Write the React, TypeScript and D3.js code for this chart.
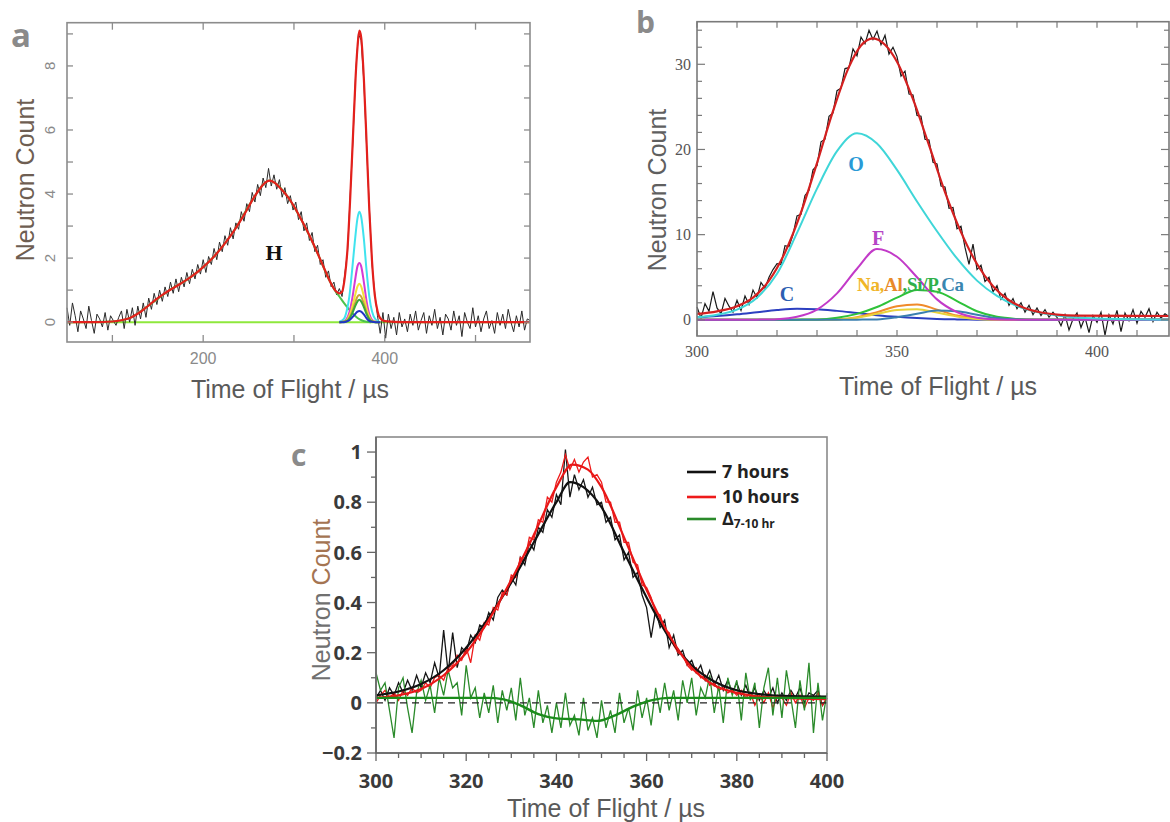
import React from 'react';
import * as d3 from 'd3';

type Pt = [number, number];

// ---------- panel a : full spectrum, 50–560 µs ----------
const aStart = 50;
const aStep = 3;
const aCounts = [
  0.45, -0.1, 0.6, 0.2, -0.3, 0.35, 0.1, -0.2, 0.5, 0.05,
  -0.35, 0.25, 0.1, -0.15, 0.3, -0.25, 0.2, 0.05, -0.1, 0.15,
  0.35, -0.2, 0.4, 0.0, 0.45, -0.1, 0.5, 0.1, 0.6, 0.15,
  0.75, 0.4, 0.9, 0.55, 1.0, 0.65, 1.1, 0.8, 1.25, 0.9,
  1.35, 0.95, 1.4, 1.1, 1.55, 1.2, 1.65, 1.35, 1.8, 1.5,
  1.95, 1.55, 2.05, 1.8, 2.3, 1.95, 2.5, 2.2, 2.7, 2.4,
  2.95, 2.6, 3.1, 2.9, 3.45, 3.15, 3.7, 3.45, 4.05, 3.75,
  4.3, 3.95, 4.5, 4.2, 4.8, 4.25, 4.6, 4.15, 4.45, 3.9,
  4.2, 3.7, 3.95, 3.5, 3.75, 3.2, 3.45, 2.85, 3.1, 2.55,
  2.8, 2.2, 2.4, 1.8, 1.95, 1.4, 1.6, 1.1, 1.25, 0.85,
  1.05, 0.8, 1.5, 2.2, 4.0, 5.7, 7.8, 9.0, 8.8, 7.5,
  5.5, 3.6, 1.8, 0.9, 0.2, -0.35, 0.3, -0.5, 0.25, -0.2,
  0.15, -0.4, 0.3, -0.15, 0.1, -0.3, 0.25, -0.1, 0.35, -0.25,
  0.05, 0.3, -0.35, 0.2, -0.1, 0.4, -0.2, 0.15, -0.4, 0.25,
  0.1, -0.25, 0.35, -0.1, 0.2, -0.45, 0.3, 0.0, -0.2, 0.45,
  -0.15, 0.2, -0.3, 0.1, 0.35, -0.2, 0.05, -0.35, 0.3, -0.1,
  0.25, -0.2, 0.4, 0.0, -0.3, 0.2, -0.15, 0.35, -0.25, 0.1,
  0.05,
];
const aFitT = [50, 80, 100, 110, 120, 130, 140, 150, 162, 175, 187, 200, 212, 225, 235, 245, 255, 262, 268, 273,
  279, 286, 293, 300, 309, 318, 326, 333, 340, 346, 350, 353, 356, 359, 362, 365, 368, 370, 372, 374,
  377, 380, 383, 386, 389, 392, 395, 400, 420, 560];
const aFitV = [0, 0, 0.02, 0.06, 0.14, 0.3, 0.52, 0.75, 0.98, 1.2, 1.42, 1.72, 2.05, 2.5, 2.9, 3.35, 3.85, 4.15, 4.35, 4.42,
  4.35, 4.15, 3.92, 3.62, 3.15, 2.65, 2.15, 1.7, 1.25, 0.97, 0.9, 0.95, 1.4, 2.3, 3.9, 5.8, 7.7, 8.6, 9.1, 8.9,
  7.6, 5.6, 3.5, 1.9, 0.85, 0.35, 0.12, 0.03, 0, 0];
const aHT = [50, 100, 120, 140, 162, 187, 212, 235, 255, 268, 273, 279, 293, 309, 326, 340, 345, 350, 355, 360, 365, 370, 375, 380, 385];
const aHV = [0, 0.02, 0.14, 0.52, 0.98, 1.42, 2.05, 2.9, 3.85, 4.35, 4.42, 4.35, 3.92, 3.15, 2.15, 1.25, 1.0, 0.8, 0.6, 0.42, 0.26, 0.13, 0.05, 0.01, 0];
const aBaseT = [50, 560];
const aBaseV = [0, 0];
const aSpikeT = [350, 355, 358, 361, 364, 367, 370, 372, 374, 377, 380, 383, 386, 390, 395];
const aCyan = [0.01, 0.1, 0.34, 0.8, 1.6, 2.5, 3.25, 3.45, 3.3, 2.6, 1.6, 0.8, 0.33, 0.08, 0];
const aMagenta = [0, 0.02, 0.1, 0.3, 0.7, 1.25, 1.75, 1.85, 1.75, 1.25, 0.65, 0.25, 0.07, 0.01, 0];
const aYellow = [0, 0.01, 0.05, 0.2, 0.45, 0.8, 1.12, 1.2, 1.12, 0.8, 0.42, 0.16, 0.04, 0.01, 0];
const aOlive = [0, 0.01, 0.04, 0.14, 0.32, 0.57, 0.8, 0.85, 0.8, 0.57, 0.3, 0.11, 0.03, 0, 0];
const aGreen = [0, 0.01, 0.03, 0.11, 0.26, 0.47, 0.65, 0.7, 0.65, 0.47, 0.25, 0.09, 0.02, 0, 0];
const aBlue = [0, 0, 0.02, 0.06, 0.14, 0.24, 0.33, 0.35, 0.33, 0.24, 0.12, 0.04, 0.01, 0, 0];
const aXTicks = [200, 400];
const aXLabels = ['200', '400'];
const aXMinor = [100, 300, 500];
const aYTicks = [0, 2, 4, 6, 8];
const aYLabels = ['0', '2', '4', '6', '8'];
const aYMinor = [1, 3, 5, 7, 9];

// ---------- panel b : heavy-element peak, 300–418 µs ----------
const bStart = 300;
const bStep = 1;
const bCounts = [
  1.5, 0.2, 1.9, 1.0, 3.3, 1.4, 0.7, 2.5, 1.6, 0.9,
  2.3, 1.1, 2.8, 1.8, 3.5, 2.6, 4.4, 3.7, 5.0, 5.9,
  6.6, 6.5, 8.7, 8.6, 10.0, 12.2, 12.4, 14.6, 15.2, 17.6,
  18.1, 20.9, 21.2, 23.9, 24.3, 26.9, 27.2, 29.5, 29.6, 31.8,
  31.0, 33.2, 32.4, 34.0, 32.9, 33.9, 32.3, 33.4, 31.2, 32.0,
  30.9, 28.6, 29.2, 26.5, 26.4, 24.0, 23.9, 21.2, 21.1, 18.5,
  18.3, 15.7, 15.6, 13.1, 13.2, 10.7, 11.0, 8.5, 6.5, 8.9,
  5.9, 6.4, 4.5, 5.0, 3.3, 4.0, 2.4, 3.1, 1.7, 2.5,
  1.3, 2.0, 0.9, 1.7, 0.6, 1.4, 0.5, 1.2, 0.3, 0.9,
  0.3, -0.7, 0.6, -1.2, 0.1, 0.8, -0.9, 0.3, -1.5, 0.5,
  -0.3, 0.9, -1.8, 0.6, -0.5, 1.1, -1.4, 0.8, -0.1, 1.2,
  -0.4, 1.0, 0.3, 1.3, -0.2, 0.9, 0.2, 0.7, 0.4,
];
const bFitT = [300, 305, 310, 314, 318, 322, 326, 330, 334, 338, 341, 344, 347, 350, 354, 358, 362, 366, 370, 374, 378, 382, 386, 390, 395, 418];
const bFitV = [0.7, 1.0, 1.6, 2.6, 4.6, 7.9, 12.6, 18.4, 24.5, 29.7, 32.2, 33.05, 32.3, 30.3, 25.9, 20.5, 15.0, 10.3, 6.55, 3.95, 2.3, 1.35, 0.86, 0.62, 0.5, 0.45];
const bCompT = [300, 305, 310, 315, 320, 325, 330, 335, 340, 345, 350, 355, 360, 365, 370, 375, 380, 385, 390, 400, 418];
const bO = [0.3, 0.6, 1.2, 2.6, 5.4, 10.2, 15.4, 19.8, 21.9, 20.7, 17.6, 13.9, 10.4, 7.2, 4.6, 2.8, 1.6, 0.9, 0.5, 0.15, 0.02];
const bF = [0, 0, 0, 0.02, 0.08, 0.35, 1.2, 3.1, 6.0, 8.3, 7.4, 5.0, 2.4, 0.9, 0.25, 0.05, 0, 0, 0, 0, 0];
const bC = [0.3, 0.45, 0.65, 0.9, 1.15, 1.3, 1.25, 1.05, 0.8, 0.55, 0.35, 0.2, 0.1, 0.05, 0.02, 0, 0, 0, 0, 0, 0];
const bNa = [0, 0, 0, 0, 0, 0, 0.01, 0.05, 0.3, 0.9, 1.6, 1.8, 1.2, 0.5, 0.15, 0.03, 0, 0, 0, 0, 0];
const bAl = [0, 0, 0, 0, 0, 0, 0.01, 0.05, 0.25, 0.7, 1.15, 1.25, 0.85, 0.4, 0.1, 0.02, 0, 0, 0, 0, 0];
const bSi = [0, 0, 0, 0, 0, 0.02, 0.05, 0.25, 0.7, 1.5, 2.6, 3.5, 3.3, 2.2, 1.0, 0.35, 0.1, 0.02, 0, 0, 0];
const bCa = [0, 0, 0, 0, 0, 0, 0, 0, 0.02, 0.05, 0.3, 0.7, 1.1, 1.0, 0.6, 0.2, 0.05, 0, 0, 0, 0];
const bXTicks = [300, 350, 400];
const bXLabels = ['300', '350', '400'];
const bYTicks = [0, 10, 20, 30];
const bYLabels = ['0', '10', '20', '30'];

// ---------- panel c : 7 h vs 10 h, normalised ----------
const cStart = 300;
const cStep = 1;
const c7h = [
  0.02, 0.05, 0.01, 0.06, 0.03, 0.08, 0.04, 0.09, 0.05, 0.11,
  0.06, 0.12, 0.08, 0.16, 0.1, 0.29, 0.12, 0.28, 0.14, 0.22,
  0.2, 0.27, 0.24, 0.31, 0.3, 0.36, 0.33, 0.42, 0.45, 0.43,
  0.5, 0.47, 0.58, 0.55, 0.64, 0.61, 0.7, 0.68, 0.77, 0.74,
  0.83, 0.79, 1.01, 0.82, 0.91, 0.85, 0.89, 0.82, 0.86, 0.79,
  0.8, 0.72, 0.74, 0.65, 0.67, 0.57, 0.6, 0.5, 0.52, 0.43,
  0.38, 0.26, 0.37, 0.3, 0.33, 0.22, 0.27, 0.19, 0.21, 0.15,
  0.17, 0.12, 0.15, 0.09, 0.13, 0.07, 0.11, 0.05, 0.09, 0.04,
  0.08, 0.03, 0.07, 0.02, 0.06, 0.01, 0.05, 0.02, 0.06, 0.0,
  0.04, 0.01, 0.05, 0.02, 0.06, 0.0, 0.04, 0.03, 0.05, -0.01, 0.02,
];
const c10h = [
  0.0, 0.03, 0.05, 0.02, 0.04, 0.01, 0.05, 0.03, 0.06, 0.04,
  0.05, 0.08, 0.06, 0.1, 0.11, 0.09, 0.14, 0.15, 0.19, 0.17,
  0.22, 0.16, 0.27, 0.25, 0.32, 0.31, 0.38, 0.37, 0.44, 0.43,
  0.51, 0.5, 0.58, 0.57, 0.66, 0.65, 0.73, 0.72, 0.82, 0.8,
  0.88, 0.92, 0.99, 0.93, 0.97, 0.92, 0.96, 0.98, 0.9, 0.91,
  0.88, 0.8, 0.8, 0.72, 0.72, 0.64, 0.64, 0.56, 0.55, 0.47,
  0.46, 0.42, 0.36, 0.35, 0.29, 0.28, 0.23, 0.2, 0.19, 0.15,
  0.13, 0.14, 0.1, 0.11, 0.07, 0.08, 0.05, 0.06, 0.04, 0.05,
  0.03, 0.05, 0.02, 0.04, -0.01, 0.03, 0.0, 0.04, -0.02, 0.03,
  0.02, -0.01, 0.04, 0.0, 0.03, -0.02, 0.02, 0.01, 0.04, -0.01, 0.02,
];
const cDiff = [
  0.12, 0.05, 0.08, -0.03, -0.14, 0.06, 0.1, -0.02, -0.12, 0.04,
  0.09, 0.01, 0.07, -0.04, 0.1, 0.03, 0.13, 0.06, 0.08, -0.05,
  0.15, 0.02, 0.06, -0.06, 0.04, -0.04, 0.07, -0.08, 0.05, -0.03,
  0.06, -0.07, 0.1, -0.05, 0.02, -0.1, 0.05, -0.08, -0.01, -0.12,
  0.0, -0.1, 0.04, -0.09, -0.05, -0.13, 0.02, -0.11, -0.06, -0.14,
  0.01, -0.1, -0.03, -0.12, 0.04, -0.08, -0.02, -0.11, 0.05, -0.06,
  0.02, -0.09, 0.06, -0.04, 0.08, -0.03, 0.05, -0.07, 0.09, 0.0,
  0.1, -0.05, 0.06, 0.02, 0.11, -0.04, 0.07, -0.08, 0.1, 0.03,
  0.09, -0.07, 0.12, 0.01, 0.08, -0.1, 0.06, 0.14, -0.05, 0.1,
  -0.06, 0.13, 0.02, -0.1, 0.09, -0.03, 0.16, -0.12, 0.08, -0.07, 0.04,
];
const c7hFitT = [300, 305, 310, 315, 320, 325, 330, 335, 340, 343, 346, 350, 355, 360, 365, 370, 375, 380, 385, 390, 400];
const c7hFitV = [0.03, 0.045, 0.075, 0.13, 0.22, 0.34, 0.48, 0.64, 0.8, 0.88, 0.86, 0.78, 0.6, 0.42, 0.26, 0.15, 0.085, 0.05, 0.035, 0.028, 0.025];
const c10hFitT = [300, 305, 310, 315, 320, 325, 330, 335, 340, 343.5, 347, 350, 355, 360, 365, 370, 375, 380, 385, 390, 400];
const c10hFitV = [0.02, 0.03, 0.055, 0.11, 0.2, 0.33, 0.49, 0.67, 0.86, 0.95, 0.93, 0.86, 0.66, 0.45, 0.27, 0.14, 0.07, 0.04, 0.025, 0.02, 0.015];
const cDiffFitT = [300, 325, 328, 332, 336, 340, 345, 349, 353, 357, 361, 365, 370, 400];
const cDiffFitV = [0.02, 0.02, 0.015, -0.01, -0.045, -0.062, -0.066, -0.072, -0.05, -0.015, 0.01, 0.02, 0.02, 0.02];
const cXTicks = [300, 320, 340, 360, 380, 400];
const cXLabels = ['300', '320', '340', '360', '380', '400'];
const cYTicks = [-0.2, 0, 0.2, 0.4, 0.6, 0.8, 1];
const cYLabels = ['\u22120.2', '0', '0.2', '0.4', '0.6', '0.8', '1'];
const cLegend = ['7 hours', '10 hours'];

const SANS = '"Liberation Sans", Arial, sans-serif';
const SERIF = '"Liberation Serif", "Times New Roman", serif';
const BOLD = '"Open Sans", "Noto Sans", sans-serif';

const pairs = (t: number[], v: number[]): Pt[] => t.map((x, i) => [x, v[i]]);
const binned = (start: number, step: number, v: number[]): Pt[] => v.map((y, i) => [start + i * step, y]);

function linePath(x: d3.ScaleLinear<number, number>, y: d3.ScaleLinear<number, number>, pts: Pt[], smooth = false) {
  const gen = d3.line<Pt>().x(d => x(d[0])).y(d => y(d[1]));
  if (smooth) gen.curve(d3.curveMonotoneX);
  return gen(pts) || '';
}

function PanelA() {
  const x = d3.scaleLinear().domain([50, 560]).range([67, 530]);
  const y = d3.scaleLinear().domain([-0.62, 9.35]).range([342, 22.7]);
  const [l, r] = x.range();
  const [b, t] = y.range();
  const comps = [
    { v: aCyan, c: '#3fe3ee' },
    { v: aMagenta, c: '#d43ad4' },
    { v: aYellow, c: '#f2e23a' },
    { v: aOlive, c: '#c9a43a' },
    { v: aGreen, c: '#3aa83a' },
    { v: aBlue, c: '#2233c4' },
  ];
  return (
    <g>
      <path d={linePath(x, y, pairs(aBaseT, aBaseV))} fill="none" stroke="#8ee83c" strokeWidth={2} />
      <path d={linePath(x, y, binned(aStart, aStep, aCounts))} fill="none" stroke="#2a2a2a" strokeWidth={1} />
      <path d={linePath(x, y, pairs(aHT, aHV), true)} fill="none" stroke="#4cc24c" strokeWidth={2} />
      {comps.map((cp, i) => (
        <path key={i} d={linePath(x, y, pairs(aSpikeT, cp.v), true)} fill="none" stroke={cp.c} strokeWidth={2} />
      ))}
      <path d={linePath(x, y, pairs(aFitT, aFitV), true)} fill="none" stroke="#e3201c" strokeWidth={2.2} />
      <rect x={l} y={t} width={r - l} height={b - t} fill="none" stroke="#8c8c8c" strokeWidth={1.6} />
      {aXTicks.concat(aXMinor).map(v => (
        <g key={v} stroke="#8c8c8c" strokeWidth={1.3}>
          <line x1={x(v)} x2={x(v)} y1={b} y2={b - 7} />
          <line x1={x(v)} x2={x(v)} y1={t} y2={t + 7} />
        </g>
      ))}
      {aYTicks.concat(aYMinor).map(v => (
        <g key={v} stroke="#8c8c8c" strokeWidth={1.3}>
          <line x1={l} x2={l + 6} y1={y(v)} y2={y(v)} />
          <line x1={r} x2={r - 6} y1={y(v)} y2={y(v)} />
        </g>
      ))}
      {aXTicks.map((v, i) => (
        <text key={v} x={x(v)} y={364} textAnchor="middle" fontFamily={SANS} fontSize={16} fill="#8a8a8a">{aXLabels[i]}</text>
      ))}
      {aYTicks.map((v, i) => (
        <text key={v} transform={`translate(55,${y(v)}) rotate(-90)`} textAnchor="middle" fontFamily={SANS} fontSize={15} fill="#8a8a8a">{aYLabels[i]}</text>
      ))}
      <text x={274} y={260} textAnchor="middle" fontFamily={SERIF} fontWeight="bold" fontSize={22} fill="#111">H</text>
      <text x={290} y={398} textAnchor="middle" fontFamily={SANS} fontSize={25} fill="#5a5a5a">Time of Flight / µs</text>
      <text transform="translate(34,180) rotate(-90)" textAnchor="middle" fontFamily={SANS} fontSize={25} fill="#6e5e52">Neutron Count</text>
      <text x={11} y={47} fontFamily={BOLD} fontWeight="bold" fontSize={33} fill="#8a8a8a">a</text>
    </g>
  );
}

function PanelB() {
  const x = d3.scaleLinear().domain([300, 418]).range([697, 1169]);
  const y = d3.scaleLinear().domain([-1.9, 35]).range([336, 21.7]);
  const [l, r] = x.range();
  const [b, t] = y.range();
  const comps = [
    { v: bC, c: '#2c3fc0' },
    { v: bNa, c: '#f08a2a' },
    { v: bAl, c: '#e8d23a' },
    { v: bSi, c: '#2fc23a' },
    { v: bCa, c: '#3a7fb0' },
    { v: bF, c: '#c23ac8' },
    { v: bO, c: '#3fd6d8' },
  ];
  return (
    <g>
      <path d={linePath(x, y, binned(bStart, bStep, bCounts))} fill="none" stroke="#1a1a1a" strokeWidth={1.2} />
      {comps.map((cp, i) => (
        <path key={i} d={linePath(x, y, pairs(bCompT, cp.v), true)} fill="none" stroke={cp.c} strokeWidth={2} />
      ))}
      <path d={linePath(x, y, pairs(bFitT, bFitV), true)} fill="none" stroke="#d42020" strokeWidth={2.2} />
      <rect x={l} y={t} width={r - l} height={b - t} fill="none" stroke="#7a7a7a" strokeWidth={1.6} />
      {d3.range(300, 420, 10).map(v => (
        <g key={v} stroke="#7a7a7a" strokeWidth={1.2}>
          <line x1={x(v)} x2={x(v)} y1={b} y2={b - 6} />
          <line x1={x(v)} x2={x(v)} y1={t} y2={t + 6} />
        </g>
      ))}
      {d3.range(0, 36, 2).map(v => (
        <g key={v} stroke="#7a7a7a" strokeWidth={1.2}>
          <line x1={l} x2={l + (v % 10 === 0 ? 8 : 5)} y1={y(v)} y2={y(v)} />
          <line x1={r} x2={r - (v % 10 === 0 ? 8 : 5)} y1={y(v)} y2={y(v)} />
        </g>
      ))}
      {bXTicks.map((v, i) => (
        <text key={v} x={x(v)} y={357} textAnchor="middle" fontFamily={SERIF} fontSize={16} fill="#555">{bXLabels[i]}</text>
      ))}
      {bYTicks.map((v, i) => (
        <text key={v} x={691} y={y(v)} dy="0.35em" textAnchor="end" fontFamily={SERIF} fontSize={16} fill="#555">{bYLabels[i]}</text>
      ))}
      <g fontFamily={SERIF} fontWeight="bold" fontSize={20}>
        <text x={856} y={171} textAnchor="middle" fill="#2a9ad6">O</text>
        <text x={878} y={245} textAnchor="middle" fill="#b545c6">F</text>
        <text x={787} y={301} textAnchor="middle" fill="#2d5fb2">C</text>
        <text x={857} y={291} fontSize={19} letterSpacing={-0.3}>
          <tspan fill="#f0b528">Na,</tspan><tspan fill="#e88a2a">Al</tspan><tspan fill="#2fb04a">,Si/P,</tspan><tspan fill="#3a86b0">Ca</tspan>
        </text>
      </g>
      <text x={938} y={395} textAnchor="middle" fontFamily={SANS} fontSize={25} fill="#5a5a5a">Time of Flight / µs</text>
      <text transform="translate(666,190) rotate(-90)" textAnchor="middle" fontFamily={SANS} fontSize={25} fill="#5f5f5f">Neutron Count</text>
      <text x={636} y={33} fontFamily={BOLD} fontWeight="bold" fontSize={30} fill="#8a8a8a">b</text>
    </g>
  );
}

function PanelC() {
  const x = d3.scaleLinear().domain([300, 400]).range([376, 827]);
  const y = d3.scaleLinear().domain([-0.2, 1.06]).range([753, 437]);
  const [l, r] = x.range();
  const [b, t] = y.range();
  const legendY = [472, 497, 519];
  return (
    <g>
      <path d={linePath(x, y, binned(cStart, cStep, c7h))} fill="none" stroke="#151515" strokeWidth={1.3} />
      <path d={linePath(x, y, binned(cStart, cStep, c10h))} fill="none" stroke="#ee1a1a" strokeWidth={1.3} />
      <path d={linePath(x, y, binned(cStart, cStep, cDiff))} fill="none" stroke="#2a8a2a" strokeWidth={1.3} />
      <line x1={l} x2={r} y1={y(0)} y2={y(0)} stroke="#222" strokeWidth={1.4} strokeDasharray="7,5" />
      <path d={linePath(x, y, pairs(c7hFitT, c7hFitV), true)} fill="none" stroke="#111" strokeWidth={2.2} />
      <path d={linePath(x, y, pairs(c10hFitT, c10hFitV), true)} fill="none" stroke="#e81818" strokeWidth={2.2} />
      <path d={linePath(x, y, pairs(cDiffFitT, cDiffFitV), true)} fill="none" stroke="#1a8c1a" strokeWidth={2.4} />
      <rect x={l} y={t} width={r - l} height={b - t} fill="none" stroke="#8a8a8a" strokeWidth={1.6} />
      <line x1={l} x2={l} y1={t} y2={b} stroke="#666" strokeWidth={1.6} />
      <line x1={l} x2={r} y1={b} y2={b} stroke="#666" strokeWidth={1.6} />
      {d3.range(300, 401, 5).map(v => (
        <line key={v} x1={x(v)} x2={x(v)} y1={b} y2={b + (v % 20 === 0 ? 8 : 5)} stroke="#666" strokeWidth={1.3} />
      ))}
      {d3.range(-2, 11, 1).map(k => (
        <line key={k} x1={l} x2={l - (k % 2 === 0 ? 9 : 5)} y1={y(k / 10)} y2={y(k / 10)} stroke="#666" strokeWidth={1.3} />
      ))}
      {cXTicks.map((v, i) => (
        <text key={v} x={x(v)} y={788} textAnchor="middle" fontFamily={BOLD} fontWeight="bold" fontSize={20} fill="#3a3a3a">{cXLabels[i]}</text>
      ))}
      {cYTicks.map((v, i) => (
        <text key={v} x={362} y={y(v)} dy="0.36em" textAnchor="end" fontFamily={BOLD} fontWeight="bold" fontSize={20} fill="#3a3a3a">{cYLabels[i]}</text>
      ))}
      {['#111', '#ee1a1a', '#2a8a2a'].map((c, i) => (
        <line key={c} x1={687} x2={716} y1={legendY[i]} y2={legendY[i]} stroke={c} strokeWidth={2.6} />
      ))}
      <g fontFamily={BOLD} fontWeight="bold" fontSize={18} fill="#222">
        <text x={722} y={478}>{cLegend[0]}</text>
        <text x={722} y={503}>{cLegend[1]}</text>
        <text x={722} y={525}>Δ<tspan fontSize={12} dy={3}>7-10 hr</tspan></text>
      </g>
      <text x={606} y={817} textAnchor="middle" fontFamily={SANS} fontSize={25} fill="#5a5a5a">Time of Flight / µs</text>
      <text transform="translate(330,600) rotate(-90)" textAnchor="middle" fontFamily={SANS} fontSize={25} fill="#707070">
        Neutron <tspan fill="#a47452">Count</tspan>
      </text>
      <text x={291} y={466} fontFamily={BOLD} fontWeight="bold" fontSize={30} fill="#8a8a8a">c</text>
    </g>
  );
}

export default function App() {
  return (
    <div style={{ position: 'absolute', left: 0, top: 0, width: 1170, height: 822, background: '#fff' }}>
      <svg width={1170} height={822} viewBox="0 0 1170 822" style={{ display: 'block' }}>
        <rect width={1170} height={822} fill="#fff" />
        <PanelA />
        <PanelB />
        <PanelC />
      </svg>
    </div>
  );
}
